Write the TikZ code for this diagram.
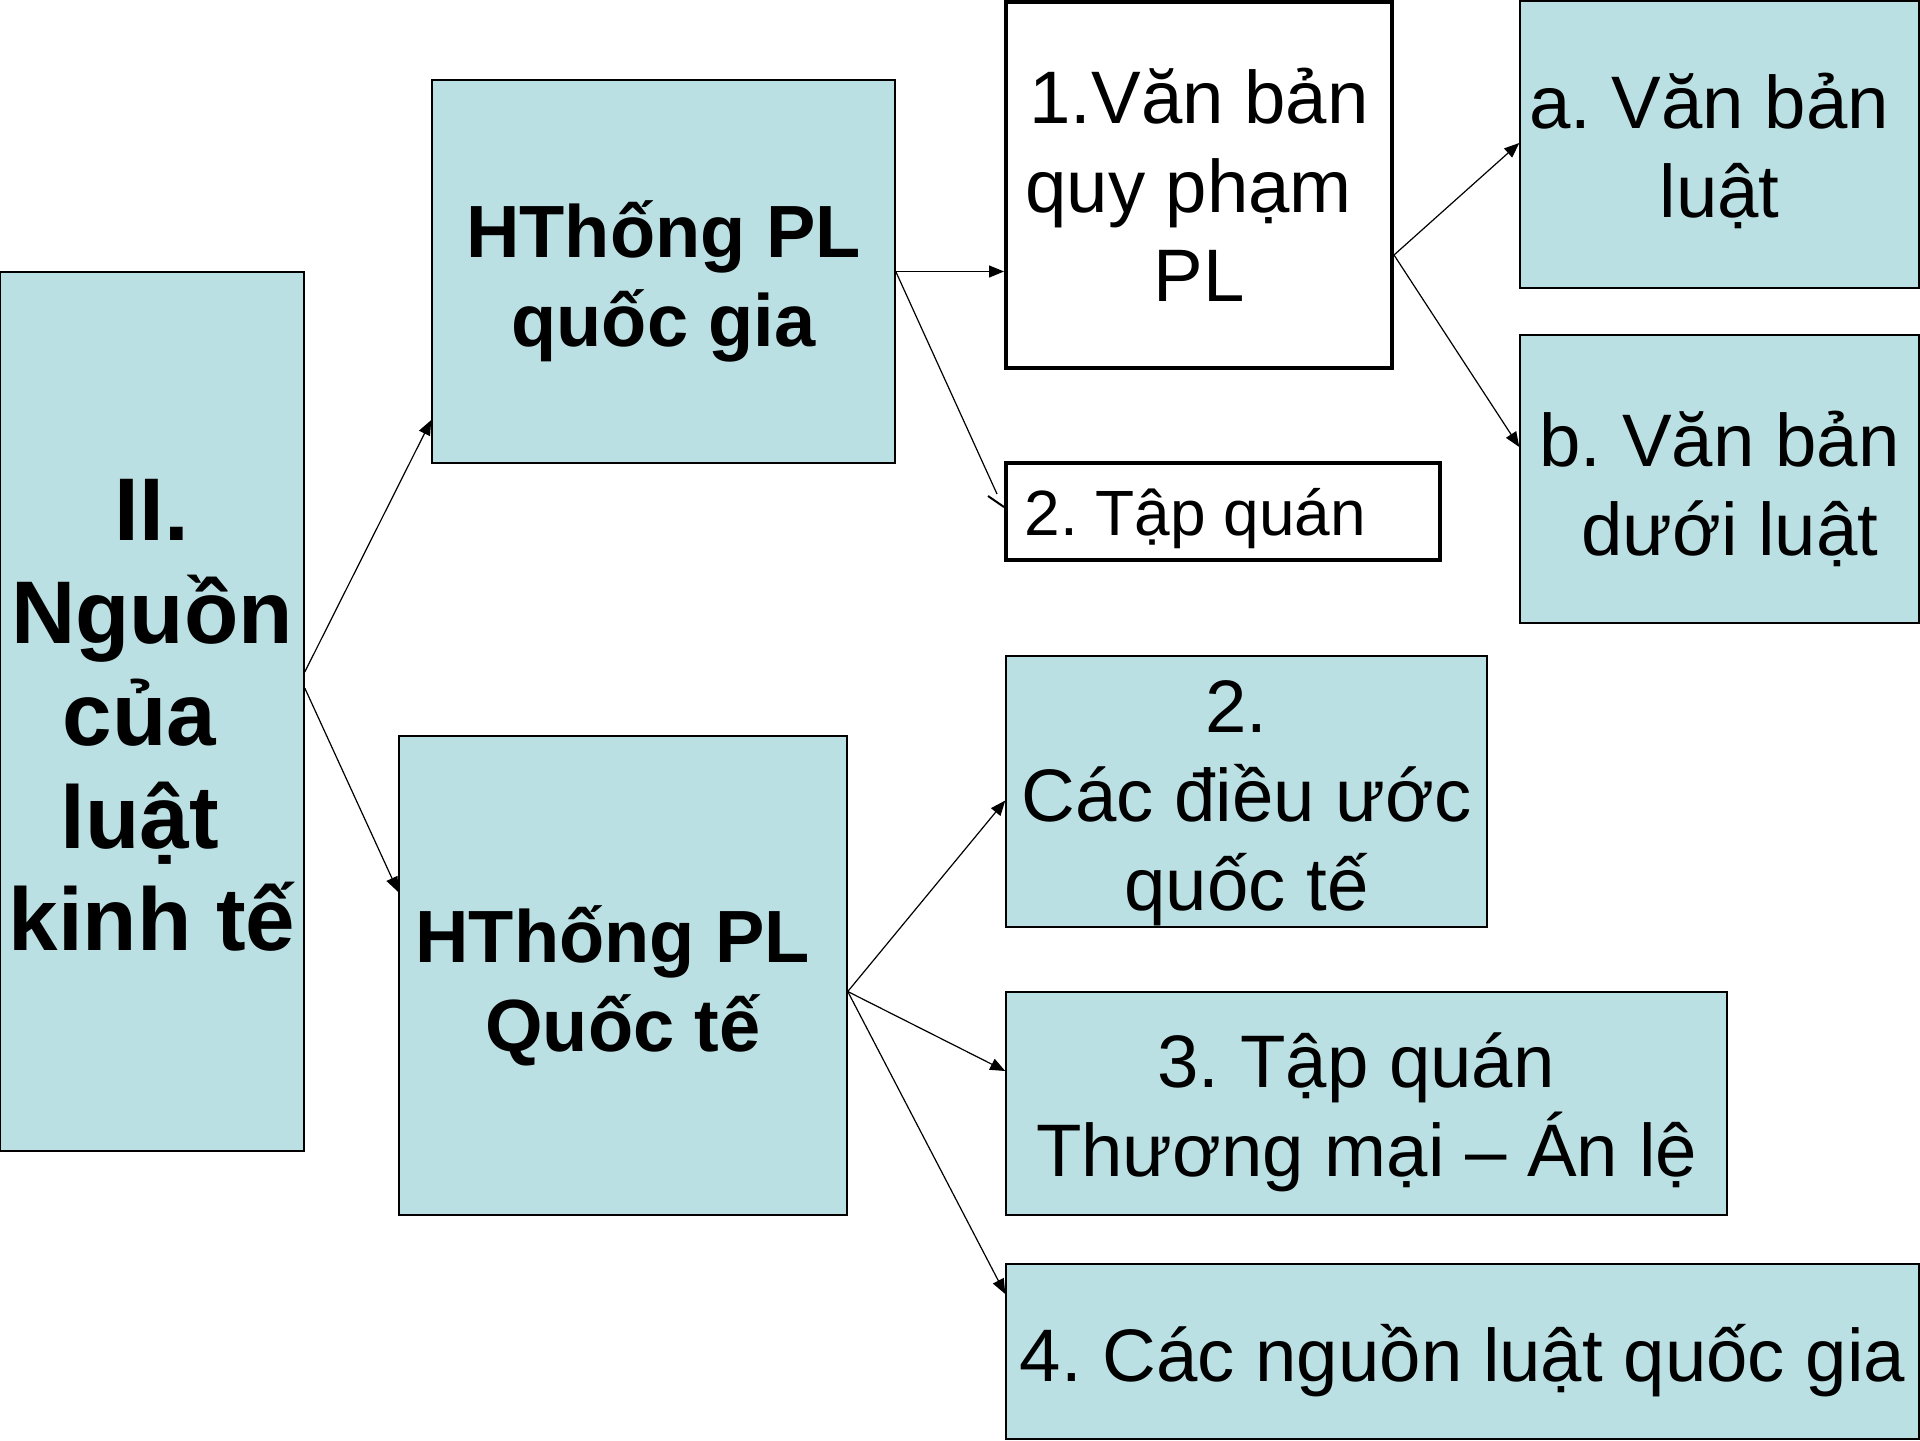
\documentclass[tikz,border=0pt]{standalone}
\usepackage{fontspec}
\setmainfont{Liberation Sans}
\usetikzlibrary{arrows.meta,calc}
\definecolor{boxfill}{RGB}{187,224,227}
\frenchspacing
\newcommand{\tsp}{\kern0.278em\relax}
\begin{document}
\begin{tikzpicture}[x=0.5pt,y=-0.5pt,
  bluebox/.style={draw=black,line width=0.75pt,fill=boxfill,inner sep=0pt},
  whitebox/.style={draw=black,line width=2pt,fill=white,inner sep=0pt},
  reg/.style={font=\fontsize{37.2}{44.5}\selectfont,align=center,inner sep=0pt},
  bld/.style={font=\fontsize{37}{44.5}\selectfont\bfseries,align=center,inner sep=0pt},
  conn/.style={line width=0.6pt,-{Triangle[length=7.5pt,width=6pt]}}]
\fill[white] (0,0) rectangle (1920,1440);
\useasboundingbox (0,0) rectangle (1920,1440);
\node[bluebox,minimum width=152pt,minimum height=439.5pt,
  label={[font=\fontsize{44.5}{51.25}\selectfont\bfseries,align=center,inner sep=0pt,yshift=-2pt]center:II.\\Nguồn\\của\tsp\\luật\tsp\\kinh tế}] (L) at (152,711.5) {};
\node[bluebox,minimum width=231.5pt,minimum height=191.5pt,
  label={[bld,yshift=-5pt]center:HThống PL\\quốc gia}] (QG) at (663.5,271.5) {};
\node[bluebox,minimum width=224pt,minimum height=239.5pt,
  label={[bld,yshift=-5pt]center:HThống PL\tsp\\Quốc tế}] (QT) at (623,975.5) {};
\node[whitebox,minimum width=193pt,minimum height=183pt,
  label={[reg]center:1.Văn bản\\quy phạm\tsp\\PL}] (VB) at (1199,185) {};
\node[whitebox,minimum width=217pt,minimum height=48.5pt,
  label={[font=\fontsize{32}{38}\selectfont,inner sep=0pt,anchor=west,xshift=10pt,yshift=-3.5pt]west:2. Tập quán}] (TQ) at (1223,511.5) {};
\node[bluebox,minimum width=199.5pt,minimum height=143.5pt,
  label={[reg,yshift=-3pt]center:a. Văn bản\tsp\\luật}] (A) at (1719.5,144.5) {};
\node[bluebox,minimum width=199.5pt,minimum height=144pt,
  label={[reg,yshift=-5pt]center:b. Văn bản\\\tsp dưới luật}] (B) at (1719.5,479) {};
\node[bluebox,minimum width=240.5pt,minimum height=135.5pt,
  label={[reg,yshift=-6pt]center:2.\tsp\\Các điều ước\\quốc tế}] (DU) at (1246.5,791.5) {};
\node[bluebox,minimum width=360.5pt,minimum height=111.5pt,
  label={[reg,yshift=-4.5pt]center:3. Tập quán\tsp\\Thương mại – Án lệ}] (TM) at (1366.5,1103.5) {};
\node[bluebox,minimum width=456.5pt,minimum height=87.5pt,
  label={[reg,yshift=-4.5pt]center:4. Các nguồn luật quốc gia}] (NL) at (1462.5,1351.5) {};
\draw[conn] ($(L.east)+(0,-39.5)$) -- ($(QG.west)+(0,148.5)$);
\draw[conn] ($(L.east)+(0,-23.5)$) -- ($(QT.west)+(0,-83.5)$);
\draw[conn] (QG.east) -- (QG.east -| VB.west);
\draw[line width=0.6pt] (QG.east) -- ($(TQ.west)+(-7,-17.5)$);
\draw[line width=1pt] ($(TQ.west)+(-16,-15.5)$) -- ($(TQ.west)+(0,-4.5)$);
\draw[conn] ($(VB.east)+(0,70)$) -- ($(A.west)+(0,-1.5)$);
\draw[conn] ($(VB.east)+(0,70)$) -- ($(B.west)+(0,-32)$);
\draw[conn] ($(QT.east)+(0,16)$) -- ($(DU.west)+(0,9)$);
\draw[conn] ($(QT.east)+(0,16)$) -- ($(TM.west)+(0,-32.5)$);
\draw[conn] ($(QT.east)+(0,16)$) -- ($(NL.west)+(0,-57.5)$);
\end{tikzpicture}
\end{document}
